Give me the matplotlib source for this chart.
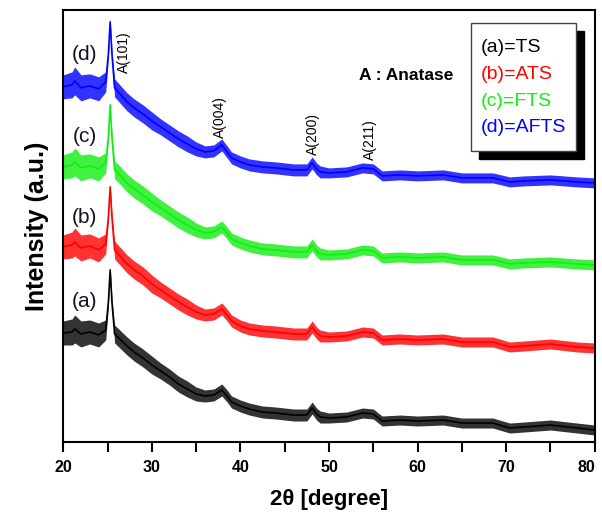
import numpy as np
import matplotlib.pyplot as plt
from matplotlib.patches import Rectangle

plt.rcParams['font.family'] = ['Liberation Sans', 'DejaVu Sans']

two_theta = [20, 21, 21.3, 22, 23, 24, 24.8, 25.1, 25.3, 25.5, 25.8, 26.5, 27.2, 28, 29,
             30, 31, 32, 33, 34, 35, 36, 37, 37.9, 38.5, 39, 40, 41, 42.5, 44, 45, 46,
             47.5, 48.1, 48.6, 49, 50, 52, 53.8, 55, 56, 58, 60, 62.9, 65, 68.5, 70.4,
             72, 75, 78, 80]

# stacked intensities (a.u.), centre of each noisy trace
ts = [109, 110, 113, 108, 110, 107, 112, 140, 172, 140, 108, 102, 96, 90, 84,
      77, 71, 65, 58, 53, 48, 46, 47, 52, 46, 40, 36, 33, 30, 29, 28, 27,
      27, 34, 28, 25, 24, 25, 29, 28, 21, 22, 21, 22, 19, 19, 14,
      15, 17, 14, 12]
ats = [195, 197, 200, 194, 196, 192, 198, 225, 255, 225, 192, 185, 178, 172, 166,
       158, 152, 146, 140, 135, 130, 127, 128, 133, 127, 121, 116, 113, 111, 110, 109, 108,
       108, 115, 109, 106, 105, 106, 110, 109, 102, 103, 102, 103, 100, 100, 95,
       96, 98, 95, 94]
fts = [275, 277, 280, 274, 276, 273, 279, 305, 337, 305, 272, 266, 259, 253, 247,
       240, 234, 228, 222, 217, 212, 209, 210, 215, 209, 203, 199, 196, 193, 192, 191, 190,
       190, 197, 191, 188, 187, 188, 192, 191, 184, 185, 184, 185, 182, 182, 178,
       179, 180, 178, 177]
afts = [355, 357, 361, 354, 356, 353, 360, 388, 420, 388, 354, 347, 340, 334, 328,
        321, 315, 309, 303, 298, 293, 290, 291, 297, 290, 284, 280, 277, 275, 274, 273, 272,
        272, 279, 273, 270, 269, 270, 274, 273, 266, 267, 266, 267, 264, 264, 260,
        261, 262, 260, 259]

# half width of the noise band around each trace
noise = [12, 13, 14, 13, 12, 12, 10, 4, 3, 4, 9, 9, 9, 9, 9,
         9, 8, 8, 8, 8, 7, 6, 6, 6, 6, 6, 6, 6, 6, 6, 6, 6,
         6, 6, 6, 6, 5, 5, 5, 5, 5, 5, 5, 5, 5, 5, 5,
         5, 5, 5, 5]

series = [('(a)', 'TS', ts, 'black'),
          ('(b)', 'ATS', ats, '#ff0000'),
          ('(c)', 'FTS', fts, '#11ee11'),
          ('(d)', 'AFTS', afts, '#0000ff')]

# tag label positions (2theta, intensity)
tag_pos = [(22.45, 140), (22.45, 224), (22.45, 305), (22.45, 387)]

peaks = ['A(101)', 'A(004)', 'A(200)', 'A(211)']
peak_x = [26.9, 37.7, 48.2, 54.6]
peak_y = [369, 304, 287, 282]

fig = plt.figure(figsize=(6.02, 5.17), dpi=100)
ax = fig.add_axes([0.105, 0.145, 0.883, 0.836])

x = np.array(two_theta)
hw = np.array(noise)
for tag, name, vals, col in series:
    v = np.array(vals)
    ax.fill_between(x, v - hw, v + hw, color=col, lw=0, alpha=0.8)
    ax.plot(x, v, color=col, lw=1.2)

for (tx, ty), (tag, name, vals, col) in zip(tag_pos, series):
    ax.text(tx, ty, tag, fontsize=15, ha='center', va='center', color='#111122')

for lab, px, py in zip(peaks, peak_x, peak_y):
    ax.text(px, py, lab, rotation=90, fontsize=10, ha='center', va='bottom')

ax.text(0.6445, 0.848, 'A : Anatase', transform=ax.transAxes, fontsize=12.5,
        fontweight='bold', ha='center', va='center')

# legend box with drop shadow
lx, ly, lw_, lh = 0.768, 0.674, 0.197, 0.296
ax.add_patch(Rectangle((lx + 0.014, ly - 0.018), lw_, lh, transform=ax.transAxes,
                       facecolor='black', edgecolor='black', zorder=5))
ax.add_patch(Rectangle((lx, ly), lw_, lh, transform=ax.transAxes,
                       facecolor='white', edgecolor='#444444', lw=1, zorder=6))
for i, (tag, name, vals, col) in enumerate(series):
    ax.text(lx + 0.018, 0.912 - i * 0.0615, f'{tag}={name}', transform=ax.transAxes,
            fontsize=14, color=col, ha='left', va='center', zorder=7)

ax.set_xlim(20, 80)
ax.set_ylim(0, 432)
ax.set_yticks([])
ax.set_xticks(range(20, 81, 10))
ax.set_xticks(range(25, 80, 10), minor=True)
ax.tick_params(axis='x', which='both', direction='out', length=7, width=1.5,
               labelsize=11.5, pad=6)
for lab in ax.get_xticklabels():
    lab.set_fontweight('bold')
ax.get_xticklabels()[-1].set_horizontalalignment('right')
ax.get_xticklabels()[-1].set_x(79.9)
for sp in ax.spines.values():
    sp.set_linewidth(1.5)

ax.set_xlabel('2\u03b8 [degree]', fontsize=16, fontweight='bold', labelpad=10)
ax.set_ylabel('Intensity (a.u.)', fontsize=18, fontweight='bold', labelpad=10)

fig.savefig('out.png', dpi=100)
